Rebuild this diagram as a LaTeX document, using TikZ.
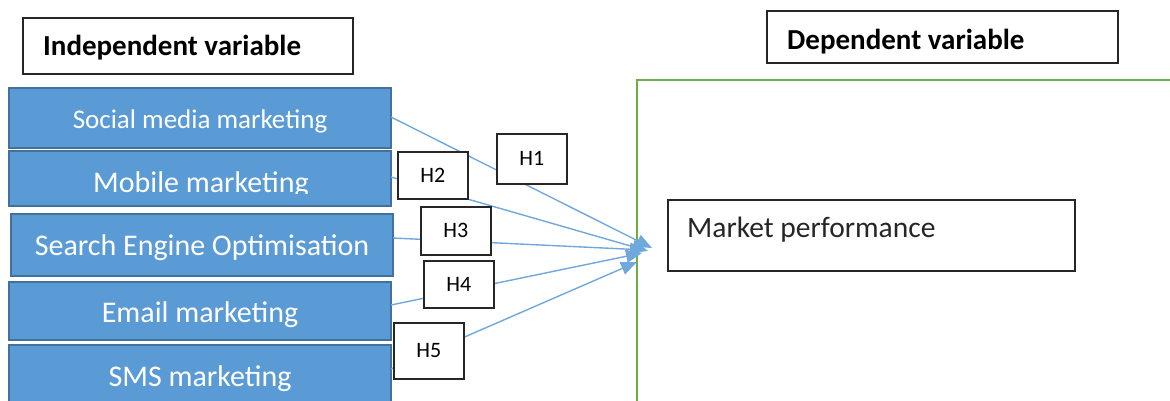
\documentclass[tikz,border=0pt]{standalone}
\usepackage{fontspec}
\setmainfont{Carlito}
\usetikzlibrary{arrows.meta}
\definecolor{boxblue}{HTML}{5B9BD5}
\definecolor{boxedge}{HTML}{41719C}
\definecolor{arrblue}{HTML}{6FA8DC}
\definecolor{frgreen}{HTML}{70AD47}
\tikzset{
  bluebox/.style={draw=boxedge, line width=2pt, fill=boxblue, minimum width=382pt, inner sep=0pt},
  bluetext/.style={text=white, anchor=base, inner sep=0pt, font=\fontsize{30}{34}\selectfont},
  headbox/.style={draw=black!85, line width=1.5pt, fill=white, anchor=north west, inner sep=0pt},
  headtext/.style={anchor=base west, inner sep=0pt, font=\fontsize{29}{33}\selectfont\bfseries},
  hbox/.style={draw=black!85, line width=1.5pt, fill=white, anchor=north west, minimum width=70pt, inner sep=0pt, font=\fontsize{22}{26}\selectfont},
  arr/.style={draw=arrblue, line width=1.4pt, -{Triangle[length=16pt,width=13pt]}},
}
\begin{document}
\begin{tikzpicture}[x=1pt,y=-1pt]
\useasboundingbox (0,0) rectangle (1170,400);
\clip (0,0) rectangle (1170,400);
% headers
\node[headbox, minimum width=330pt, minimum height=56pt] (indep) at (22,17) {};
\node[headtext] (indept) at (43,55) {Independent variable};
\node[headbox, minimum width=351pt, minimum height=52pt] (dep) at (766,10) {};
\node[headtext] (dept) at (787,49) {Dependent variable};
% green frame
\coordinate (g1) at (637,420);
\coordinate (g2) at (637,80);
\coordinate (g3) at (1185,80);
\draw[frgreen, line width=2.6pt] (g1) -- (g2) -- (g3);
% market performance
\node[headbox, minimum width=407pt, minimum height=71pt] (mp) at (667,199) {};
\node[anchor=base west, inner sep=0pt, font=\fontsize{29.5}{33}\selectfont, text=black!85] (mpt) at (687,237) {Market performance};
% blue boxes
\node[bluebox, minimum height=60pt] (soc) at (200,118) {};
\node[bluetext, font=\fontsize{27}{32}\selectfont] (soct) at (200,128) {Social media marketing};
\node[bluebox, minimum height=55pt] (mob) at (200,178.5) {};
\begin{scope}
\clip (0,150) rectangle (400,193);
\node[bluetext] (mobt) at (201,192.5) {Mobile marketing};
\end{scope}
\node[bluebox, minimum height=62pt] (seo) at (202,245) {};
\node[bluetext] (seot) at (202,255) {Search Engine Optimisation};
\node[bluebox, minimum height=58pt] (eml) at (200,311) {};
\node[bluetext] (emlt) at (200,322) {Email marketing};
\node[bluebox, minimum height=66pt] (sms) at (200,378) {};
\node[bluetext] (smst) at (200,386) {SMS marketing};
% arrow end points
\coordinate (s1) at (391,117);
\coordinate (s2) at (391,177);
\coordinate (s3) at (393,238);
\coordinate (s4) at (391,305);
\coordinate (s5) at (391,369);
\coordinate (t1) at (652,248);
\coordinate (t2) at (648,251);
\coordinate (t3) at (646,250);
\coordinate (t4) at (642,253);
\coordinate (t5) at (637,262);
\draw[arr] (s1) -- (t1);
\draw[arr] (s2) -- (t2);
\draw[arr] (s3) -- (t3);
\draw[arr] (s4) -- (t4);
\draw[arr] (s5) -- (t5);
% hypothesis boxes
\node[hbox, minimum height=50pt] (h1) at (496,133) {H1\hspace{7pt}};
\node[hbox, minimum height=47pt] (h2) at (397,151) {H2\hspace{7pt}};
\node[hbox, minimum height=48pt] (h3) at (420,206) {H3\hspace{7pt}};
\node[hbox, minimum height=47pt] (h4) at (423,260) {H4\hspace{7pt}};
\node[hbox, minimum height=56pt] (h5) at (393,322) {H5\hspace{7pt}};
\end{tikzpicture}
\end{document}
